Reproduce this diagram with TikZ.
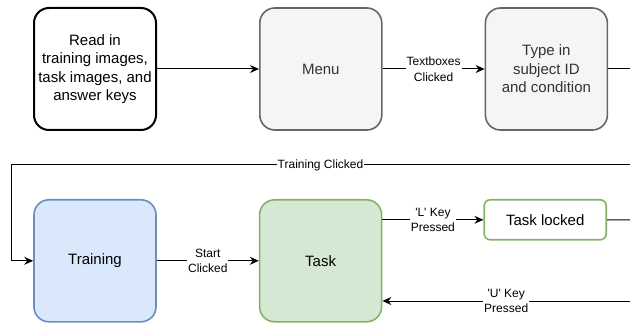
\documentclass[tikz,border=0pt]{standalone}
\usepackage{fontspec}
\setmainfont{Liberation Sans}[Ligatures=TeXOff]
\usetikzlibrary{arrows.meta, positioning}
\definecolor{menugrey}{HTML}{F5F5F5}
\definecolor{menuline}{HTML}{666666}
\definecolor{trainblue}{HTML}{DAE8FC}
\definecolor{trainline}{HTML}{6C8EBF}
\definecolor{taskgreen}{HTML}{D5E8D4}
\definecolor{taskline}{HTML}{82B366}
\definecolor{textgrey}{HTML}{333333}
\tikzset{
  >={Stealth[length=9pt, width=8pt, inset=3pt]},
  box/.style={rectangle, rounded corners=15pt, draw=black, line width=2pt, fill=white,
              align=center, minimum width=122pt, minimum height=122pt, inner sep=2pt,
              font=\fontsize{15}{18.5}\selectfont},
  boxk/.style={box, draw=menuline, fill=menugrey, line width=1.6pt, text=textgrey},
  boxb/.style={box, draw=trainline, fill=trainblue, line width=1.6pt},
  boxg/.style={box, draw=taskline, fill=taskgreen, line width=1.6pt},
  boxs/.style={boxg, fill=white, minimum height=40pt, rounded corners=6pt},
  flow/.style={->, line width=1pt, draw=black},
  conn/.style={line width=1pt, draw=black},
  lbl/.style={fill=white, align=center, inner sep=1pt, font=\fontsize{12}{15.5}\selectfont},
}

\begin{document}
\begin{tikzpicture}[x=1pt, y=-1pt]
  \useasboundingbox (0,0) rectangle (630,326);
  \node[box] (read) at (95,69) {Read in\\training images,\\task images, and\\answer keys};
  \node[boxk, right=102pt of read] (menu) {Menu};
  \node[boxk, right=102pt of menu] (type) {Type in\\subject ID\\and condition};
  \node[boxb, below=68pt of read] (training) {Training};
  \node[boxg, right=102pt of training] (task) {Task};
  \node[boxs, right=101pt of task.north east, anchor=north west] (lock) {Task locked};
  \coordinate (typeout) at (630,69);
  \coordinate (lockout) at (630,220);
  \coordinate (unlockin) at (630,301);
  \coordinate (trright) at (630,165);
  \coordinate (trleft) at (11,165);
  \draw[flow] (read) -- (menu);
  \draw[flow] (menu) -- node[lbl]{Textboxes\\Clicked} (type);
  \draw[conn] (type) -- (typeout);
  \draw[flow] (trright) -- node[lbl]{Training Clicked} (trleft) |- (training);
  \draw[flow] (training) -- node[lbl]{Start\\Clicked} (task);
  \draw[flow] (task.east |- lock) -- node[lbl]{'L' Key\\Pressed} (lock);
  \draw[conn] (lock) -- (lockout);
  \draw[flow] (unlockin) -- node[lbl]{'U' Key\\Pressed} (task.east |- unlockin);
\end{tikzpicture}
\end{document}
